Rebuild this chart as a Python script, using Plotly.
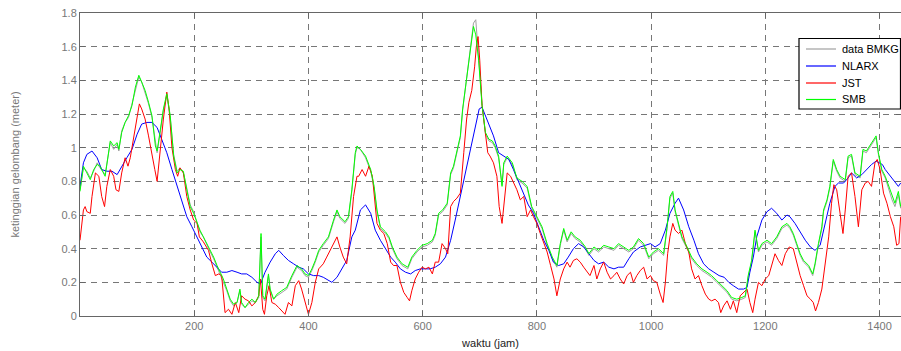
import plotly.graph_objects as go

# ---- data ----
smb_x = [0, 6, 12, 18, 24, 30, 35, 44, 53, 59, 65, 68, 73, 79, 85, 91, 97, 103, 108, 114, 120, 126, 132, 135, 140, 146, 152, 158, 164, 170, 175, 181, 187, 193, 199, 205, 210, 216, 222, 228, 234, 240, 245, 251, 257, 263, 269, 275, 280, 283, 289, 295, 301, 307, 313, 317, 320, 324, 330, 333, 339, 345, 353, 362, 371, 380, 388, 394, 400, 406, 412, 418, 426, 435, 444, 450, 455, 464, 470, 476, 482,
         485, 491, 500, 509, 515, 520, 526, 535, 541, 547, 555, 564, 574, 581, 590, 599, 608, 617, 622, 628, 635, 643, 649, 654, 660, 666, 670, 675, 681, 686, 689, 693, 698, 704, 710, 716, 722, 727, 733, 739, 742, 748, 757, 765, 774, 783, 791, 800, 809, 818, 827, 835, 841, 847, 853, 860, 867, 876, 885, 891, 900, 908, 917, 926, 935, 943, 952, 961,
         969, 978, 987, 996, 1004, 1013, 1022, 1028, 1033, 1038, 1042, 1048, 1054, 1063, 1071, 1080, 1089, 1098, 1106, 1115, 1124, 1133, 1141, 1150, 1159, 1165, 1170, 1176, 1182, 1188, 1194, 1203, 1211, 1220, 1229, 1238, 1243, 1249, 1255, 1261, 1267, 1276, 1283, 1287, 1293, 1299, 1302, 1308, 1313, 1319, 1325, 1331, 1340, 1345, 1351, 1357, 1366, 1371, 1377, 1383, 1389, 1394, 1398, 1404, 1410, 1416, 1422, 1427, 1433, 1437]
smb_y = [0.74, 0.89, 0.85, 0.81, 0.87, 0.90, 0.89, 0.83, 1.04, 1.01, 1.03, 0.99, 1.09, 1.15, 1.19, 1.25, 1.36, 1.43, 1.39, 1.34, 1.27, 1.19, 1.01, 0.98, 1.09, 1.23, 1.32, 1.19, 0.95, 0.85, 0.87, 0.86, 0.75, 0.65, 0.61, 0.55, 0.51, 0.47, 0.43, 0.39, 0.35, 0.30, 0.26, 0.22, 0.16, 0.10, 0.07, 0.08, 0.16, 0.08, 0.05, 0.08, 0.10, 0.08, 0.12, 0.49, 0.12, 0.10, 0.25, 0.16, 0.10, 0.13, 0.15, 0.17, 0.24, 0.30, 0.28, 0.25, 0.24, 0.28, 0.33, 0.39, 0.43, 0.47, 0.57, 0.63, 0.59, 0.56, 0.59, 0.75, 0.97,
         1.01, 0.99, 0.95, 0.87, 0.77, 0.63, 0.53, 0.50, 0.47, 0.41, 0.35, 0.31, 0.29, 0.35, 0.39, 0.42, 0.43, 0.45, 0.49, 0.61, 0.63, 0.67, 0.85, 0.89, 0.99, 1.07, 1.23, 1.36, 1.52, 1.62, 1.72, 1.67, 1.52, 1.25, 1.09, 1.05, 1.04, 1.01, 0.95, 0.77, 0.91, 0.95, 0.91, 0.82, 0.80, 0.77, 0.65, 0.59, 0.53, 0.43, 0.35, 0.30, 0.43, 0.52, 0.45, 0.50, 0.47, 0.45, 0.41, 0.37, 0.41, 0.39, 0.42, 0.41, 0.40, 0.43, 0.41, 0.39,
         0.41, 0.46, 0.43, 0.35, 0.38, 0.40, 0.37, 0.53, 0.71, 0.74, 0.63, 0.55, 0.47, 0.41, 0.35, 0.31, 0.28, 0.26, 0.24, 0.21, 0.18, 0.15, 0.11, 0.10, 0.11, 0.12, 0.24, 0.33, 0.51, 0.39, 0.43, 0.45, 0.43, 0.47, 0.53, 0.55, 0.53, 0.49, 0.43, 0.37, 0.33, 0.30, 0.25, 0.31, 0.43, 0.53, 0.63, 0.69, 0.77, 0.93, 0.87, 0.83, 0.81, 0.95, 0.96, 0.85, 0.83, 0.99, 0.98, 1.01, 1.04, 1.07, 0.97, 0.87, 0.83, 0.77, 0.71, 0.67, 0.74, 0.65]

bmkg_y = [0.75, 0.88, 0.86, 0.82, 0.86, 0.91, 0.88, 0.84, 1.03, 0.99, 1.02, 0.98, 1.10, 1.15, 1.18, 1.26, 1.35, 1.42, 1.39, 1.33, 1.26, 1.18, 1.02, 0.97, 1.08, 1.22, 1.31, 1.18, 0.96, 0.86, 0.88, 0.85, 0.76, 0.66, 0.62, 0.56, 0.50, 0.47, 0.42, 0.38, 0.34, 0.29, 0.25, 0.21, 0.15, 0.09, 0.06, 0.08, 0.15, 0.07, 0.05, 0.07, 0.09, 0.08, 0.11, 0.47, 0.11, 0.09, 0.24, 0.15, 0.10, 0.12, 0.14, 0.16, 0.23, 0.29, 0.27, 0.24, 0.23, 0.27, 0.32, 0.38, 0.42, 0.46, 0.56, 0.62, 0.58, 0.55, 0.58, 0.74, 0.96,
          1.00, 0.99, 0.94, 0.86, 0.76, 0.62, 0.52, 0.49, 0.46, 0.40, 0.34, 0.30, 0.28, 0.34, 0.38, 0.41, 0.42, 0.44, 0.48, 0.60, 0.62, 0.66, 0.84, 0.88, 0.98, 1.06, 1.22, 1.35, 1.51, 1.63, 1.74, 1.76, 1.54, 1.26, 1.08, 1.04, 1.03, 1.00, 0.94, 0.78, 0.90, 0.94, 0.90, 0.81, 0.79, 0.76, 0.64, 0.58, 0.52, 0.42, 0.34, 0.29, 0.42, 0.51, 0.44, 0.49, 0.46, 0.44, 0.40, 0.36, 0.40, 0.38, 0.41, 0.40, 0.39, 0.42, 0.40, 0.38,
          0.40, 0.45, 0.42, 0.34, 0.37, 0.39, 0.36, 0.52, 0.70, 0.73, 0.62, 0.54, 0.46, 0.40, 0.34, 0.30, 0.27, 0.25, 0.23, 0.20, 0.17, 0.14, 0.10, 0.09, 0.10, 0.11, 0.23, 0.32, 0.50, 0.38, 0.42, 0.44, 0.42, 0.46, 0.52, 0.54, 0.52, 0.48, 0.42, 0.36, 0.32, 0.29, 0.24, 0.30, 0.42, 0.52, 0.62, 0.68, 0.76, 0.92, 0.86, 0.82, 0.80, 0.94, 0.95, 0.84, 0.82, 0.98, 0.97, 1.00, 1.03, 1.06, 0.96, 0.86, 0.82, 0.75, 0.69, 0.65, 0.72, 0.64]

nlarx_x = [0, 6, 12, 21, 30, 38, 47, 56, 65, 73, 82, 91, 100, 108, 117, 126, 135, 143, 152, 161, 170, 178, 187, 196, 205, 213, 222, 231, 240, 248, 257, 266, 275, 283, 292, 301, 310, 316, 324, 333, 342, 348, 356, 365, 374, 383, 391, 400, 409, 418, 426, 435, 441, 450, 458, 467, 476, 482,
           491, 500, 509, 517, 526, 535, 544, 552, 561, 570, 579, 587, 596, 605, 613, 622, 631, 640, 649, 657, 666, 675, 683, 692, 699, 704, 710, 716, 724, 733, 742, 751, 759, 768, 777, 785, 794, 803, 812, 821, 829, 838, 847, 855, 864, 873, 882, 891, 900, 908, 917, 926, 935, 943, 952, 961,
           969, 981, 990, 999, 1007, 1016, 1025, 1033, 1042, 1048, 1057, 1066, 1075, 1083, 1092, 1101, 1110, 1119, 1128, 1136, 1144, 1153, 1162, 1168, 1173, 1179, 1185, 1194, 1203, 1211, 1220, 1229, 1238, 1243, 1252, 1261, 1270, 1279, 1287, 1296, 1305, 1313, 1322, 1328, 1337, 1345, 1351, 1360, 1369, 1377, 1386, 1394, 1405, 1410, 1419, 1427, 1433, 1437]
nlarx_y = [0.77, 0.91, 0.96, 0.98, 0.94, 0.87, 0.86, 0.86, 0.84, 0.89, 0.94, 0.99, 1.08, 1.14, 1.15, 1.15, 1.12, 1.05, 0.97, 0.87, 0.77, 0.69, 0.59, 0.53, 0.47, 0.41, 0.35, 0.32, 0.29, 0.26, 0.26, 0.27, 0.26, 0.25, 0.25, 0.23, 0.20, 0.19, 0.26, 0.32, 0.37, 0.39, 0.36, 0.33, 0.31, 0.29, 0.28, 0.25, 0.24, 0.24, 0.23, 0.21, 0.20, 0.23, 0.28, 0.33, 0.47, 0.51,
           0.63, 0.66, 0.61, 0.51, 0.45, 0.40, 0.35, 0.32, 0.28, 0.26, 0.25, 0.27, 0.28, 0.28, 0.28, 0.29, 0.31, 0.35, 0.45, 0.57, 0.71, 0.85, 0.99, 1.13, 1.23, 1.24, 1.19, 1.14, 1.07, 0.97, 0.95, 0.93, 0.87, 0.80, 0.73, 0.66, 0.61, 0.53, 0.45, 0.39, 0.32, 0.30, 0.31, 0.35, 0.40, 0.43, 0.41, 0.37, 0.33, 0.31, 0.32, 0.29, 0.28, 0.29, 0.29, 0.34,
           0.38, 0.41, 0.42, 0.43, 0.41, 0.43, 0.51, 0.61, 0.67, 0.70, 0.63, 0.53, 0.45, 0.37, 0.31, 0.28, 0.26, 0.24, 0.23, 0.20, 0.18, 0.16, 0.16, 0.17, 0.26, 0.35, 0.47, 0.57, 0.62, 0.64, 0.61, 0.57, 0.60, 0.59, 0.55, 0.50, 0.45, 0.41, 0.39, 0.42, 0.55, 0.67, 0.77, 0.79, 0.79, 0.82, 0.85, 0.82, 0.84, 0.87, 0.90, 0.92, 0.90, 0.87, 0.83, 0.79, 0.77, 0.79]

jst_x = [0, 3, 6, 9, 12, 18, 21, 27, 33, 38, 43, 47, 53, 59, 63, 68, 73, 79, 84, 88, 94, 100, 104, 108, 114, 120, 126, 131, 135, 140, 146, 152, 156, 161, 167, 171, 175, 181, 187, 193, 199, 205, 209, 216, 225, 231, 237, 243, 248, 254, 260, 266, 272, 278, 283, 289, 295, 301, 307, 313, 316, 320, 323, 327, 331, 336, 342, 348, 353, 359, 365, 371, 377, 383, 388, 394, 400, 406, 412, 418, 426, 432, 438, 444, 450, 455, 461, 467, 473, 479,
         485, 488, 494, 500, 506, 512, 516, 520, 526, 532, 538, 544, 549, 555, 561, 567, 573, 577, 581, 587, 593, 599, 605, 611, 617, 622, 628, 634, 640, 644, 649, 654, 660, 666, 672, 677, 681, 686, 691, 694, 697, 700, 704, 710, 714, 718, 724, 730, 734, 739, 744, 748, 754, 759, 765, 771, 777, 783, 789, 794, 800, 806, 812, 818, 824, 830, 835, 841, 847, 853, 858, 864, 870, 876, 882, 888, 893, 900, 905, 911, 917, 923, 929, 935, 940, 946, 952, 958, 964,
         969, 975, 981, 987, 993, 999, 1004, 1010, 1016, 1021, 1025, 1029, 1033, 1038, 1042, 1048, 1054, 1060, 1066, 1071, 1077, 1083, 1089, 1095, 1101, 1106, 1112, 1118, 1122, 1127, 1133, 1139, 1144, 1150, 1156, 1162, 1168, 1173, 1178, 1182, 1188, 1194, 1200, 1206, 1211, 1217, 1223, 1229, 1235, 1242, 1249, 1255, 1261, 1267, 1273, 1279, 1284, 1288, 1293, 1299, 1305, 1311, 1316, 1320, 1325, 1331, 1336, 1340, 1345, 1351, 1357, 1363, 1369, 1375, 1380, 1386, 1392, 1396, 1401, 1407, 1413, 1419, 1425, 1430, 1434, 1437]
jst_y = [0.45, 0.55, 0.63, 0.65, 0.62, 0.61, 0.71, 0.85, 0.83, 0.71, 0.65, 0.77, 0.87, 0.83, 0.75, 0.74, 0.85, 0.94, 0.89, 0.94, 1.07, 1.19, 1.26, 1.23, 1.17, 1.07, 0.95, 0.87, 0.80, 0.97, 1.17, 1.33, 1.23, 1.00, 0.87, 0.83, 0.88, 0.85, 0.71, 0.63, 0.57, 0.55, 0.47, 0.44, 0.39, 0.31, 0.24, 0.25, 0.24, 0.02, 0.04, 0.01, 0.08, 0.02, 0.12, 0.10, 0.09, 0.06, 0.08, 0.12, 0.22, 0.04, 0.01, 0.12, 0.18, 0.08, 0.07, 0.05, 0.03, 0.01, 0.08, 0.06, 0.18, 0.21, 0.16, 0.08, 0.01, 0.08, 0.20, 0.28, 0.31, 0.35, 0.39, 0.43, 0.47, 0.41, 0.35, 0.31, 0.47, 0.71,
         0.83, 0.83, 0.87, 0.83, 0.89, 0.83, 0.69, 0.55, 0.51, 0.49, 0.43, 0.32, 0.30, 0.30, 0.20, 0.14, 0.11, 0.09, 0.15, 0.22, 0.26, 0.29, 0.28, 0.29, 0.25, 0.32, 0.32, 0.43, 0.40, 0.37, 0.65, 0.68, 0.70, 0.73, 0.97, 1.17, 1.27, 1.34, 1.48, 1.60, 1.66, 1.52, 1.25, 1.07, 0.97, 0.95, 0.91, 0.83, 0.65, 0.55, 0.71, 0.85, 0.83, 0.79, 0.75, 0.69, 0.71, 0.59, 0.63, 0.59, 0.55, 0.49, 0.43, 0.38, 0.30, 0.22, 0.12, 0.22, 0.28, 0.32, 0.29, 0.33, 0.34, 0.32, 0.29, 0.26, 0.24, 0.30, 0.22, 0.28, 0.32, 0.26, 0.22, 0.24, 0.26, 0.22, 0.19, 0.24, 0.26,
         0.20, 0.24, 0.27, 0.29, 0.22, 0.24, 0.21, 0.20, 0.13, 0.08, 0.20, 0.37, 0.47, 0.55, 0.51, 0.49, 0.51, 0.43, 0.38, 0.28, 0.22, 0.24, 0.18, 0.13, 0.10, 0.09, 0.10, 0.08, 0.02, 0.06, 0.09, 0.04, 0.09, 0.02, 0.12, 0.14, 0.16, 0.08, 0.02, 0.10, 0.20, 0.18, 0.22, 0.24, 0.30, 0.37, 0.33, 0.30, 0.37, 0.41, 0.40, 0.32, 0.24, 0.18, 0.12, 0.10, 0.08, 0.03, 0.08, 0.16, 0.32, 0.47, 0.67, 0.78, 0.75, 0.61, 0.49, 0.63, 0.83, 0.85, 0.71, 0.53, 0.75, 0.79, 0.80, 0.77, 0.91, 0.93, 0.87, 0.73, 0.67, 0.59, 0.53, 0.42, 0.43, 0.59]

x_ticks = [200, 400, 600, 800, 1000, 1200, 1400]
y_ticks = [0, 0.2, 0.4, 0.6, 0.8, 1, 1.2, 1.4, 1.6, 1.8]
y_ticktext = ["0", "0.2", "0.4", "0.6", "0.8", "1", "1.2", "1.4", "1.6", "1.8"]

series_names = ["data BMKG", "NLARX", "JST", "SMB"]
series_colors = ["#a0a0a0", "#0000ff", "#ff0000", "#00ff00"]

W, H = 901, 351
ML, MR, MT, MB = 80, 0, 13, 35
PW, PH = W - ML - MR, H - MT - MB

fig = go.Figure()
fig.add_trace(go.Scatter(x=smb_x, y=bmkg_y, mode="lines", name=series_names[0],
                         line=dict(color=series_colors[0], width=1)))
fig.add_trace(go.Scatter(x=nlarx_x, y=nlarx_y, mode="lines", name=series_names[1],
                         line=dict(color=series_colors[1], width=1)))
fig.add_trace(go.Scatter(x=jst_x, y=jst_y, mode="lines", name=series_names[2],
                         line=dict(color=series_colors[2], width=1)))
fig.add_trace(go.Scatter(x=smb_x, y=smb_y, mode="lines", name=series_names[3],
                         line=dict(color=series_colors[3], width=1)))

axis_common = dict(
    showline=True, linecolor="#666666", linewidth=1, mirror="ticks",
    ticks="inside", ticklen=5, tickcolor="#666666",
    showgrid=True, gridcolor="#777777", gridwidth=1, griddash="6px,5px",
    zeroline=False,
    tickfont=dict(family="Liberation Sans, Arial, sans-serif", size=11, color="#777777"),
)


def px_to_paper_x(px):
    return (px - ML) / PW


def px_to_paper_y(py):
    return 1 - (py - MT) / PH


# legend drawn as a box with sample lines + labels (MATLAB style, compact rows)
shapes = [dict(type="rect", xref="paper", yref="paper",
               x0=px_to_paper_x(799), x1=px_to_paper_x(900.5),
               y0=px_to_paper_y(109), y1=px_to_paper_y(38.5),
               line=dict(color="black", width=1.2), fillcolor="white", layer="above")]
annotations = []
row_y = [49, 66, 83, 99.5]
for name, color, ry in zip(series_names, series_colors, row_y):
    shapes.append(dict(type="line", xref="paper", yref="paper",
                       x0=px_to_paper_x(806), x1=px_to_paper_x(836),
                       y0=px_to_paper_y(ry), y1=px_to_paper_y(ry),
                       line=dict(color=color, width=1.2), layer="above"))
    annotations.append(dict(xref="paper", yref="paper", x=px_to_paper_x(840), y=px_to_paper_y(ry),
                            xanchor="left", yanchor="middle", showarrow=False, text=name,
                            font=dict(family="Liberation Sans, Arial, sans-serif", size=11, color="black")))

fig.update_layout(
    width=W, height=H,
    margin=dict(l=ML, r=MR, t=MT, b=MB),
    paper_bgcolor="white", plot_bgcolor="white",
    font=dict(family="Liberation Sans, Arial, sans-serif", size=11, color="#222222"),
    xaxis=dict(range=[0, 1437.6], tickvals=x_ticks,
               title=dict(text="waktu (jam)", standoff=8,
                          font=dict(size=11, color="#222222")),
               **axis_common),
    yaxis=dict(range=[0, 1.8], tickvals=y_ticks, ticktext=y_ticktext,
               title=dict(text="ketinggian gelombang (meter)", standoff=39,
                          font=dict(size=11, color="#777777")),
               **axis_common),
    showlegend=False,
    shapes=shapes,
    annotations=annotations,
)

fig.write_html("out.html")
